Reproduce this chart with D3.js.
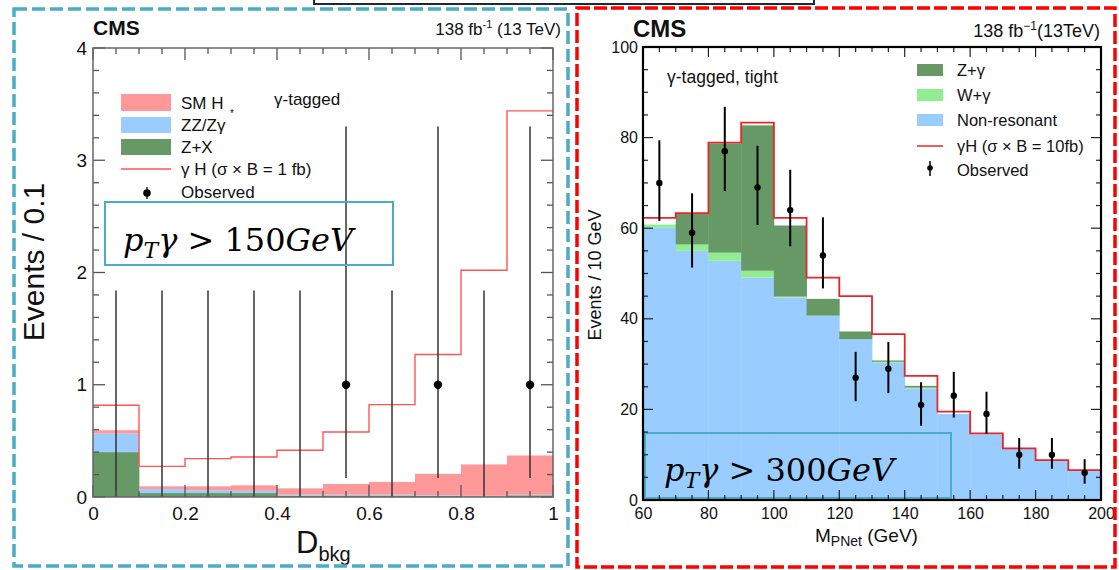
<!DOCTYPE html>
<html><head><meta charset="utf-8">
<script src="https://cdn.jsdelivr.net/npm/d3@7"></script>
<style>
html,body{margin:0;padding:0;background:#fff;}
text{font-family:"Liberation Sans",Arial,sans-serif;}
.math{font-family:"DejaVu Serif","Liberation Serif",serif;font-style:italic;}
</style></head>
<body><svg id="c" width="1119" height="570"></svg>
<script>
// ---------- LEFT PANEL DATA (D_bkg, bins of 0.1) ----------
const leftBinEdges = [0,0.1,0.2,0.3,0.4,0.5,0.6,0.7,0.8,0.9,1.0];
const leftZX   = [0.40,0.035,0.035,0.035,0.010,0.013,0.013,0.010,0.005,0.015];
const leftZZ   = [0.165,0.035,0.025,0.020,0.010,0.007,0.007,0.006,0.005,0.005];
const leftSMH  = [0.030,0.025,0.035,0.049,0.057,0.096,0.114,0.190,0.280,0.350];
const leftGH   = [0.817,0.273,0.342,0.356,0.416,0.579,0.823,1.27,2.02,3.44];
const leftObs  = [0,0,0,0,0,1,0,1,0,1];
const leftErrUp   = [1.84,1.84,1.84,1.84,1.84,2.30,1.84,2.30,1.84,2.30];
const leftErrDown = [0,0,0,0,0,0.83,0,0.83,0,0.83];
const leftXTicks = [0,0.2,0.4,0.6,0.8,1];
const leftYTicks = [0,1,2,3,4];

// ---------- RIGHT PANEL DATA (M_PNet, bins of 10 GeV) ----------
const rightBinEdges = [60,70,80,90,100,110,120,130,140,150,160,170,180,190,200];
const rightNonRes = [60.2,55.0,52.8,49.1,44.7,40.7,35.5,30.3,24.6,19.0,14.5,11.3,8.7,6.5];
const rightWG     = [0.6,1.4,1.8,1.5,0.2,0,0,0.2,0.2,0,0,0,0,0];
const rightZG     = [0,6.7,24.1,32.1,15.7,3.7,1.7,0.3,0.4,0,0,0,0,0];
const rightGH     = [62.3,63.3,78.9,83.3,62.3,49.1,45.0,36.6,27.4,19.5,14.7,11.4,8.8,6.6];
const rightObs    = [70,59,77,69,64,54,27,29,21,23,19,10,10,6];
const rightErrUp  = [9.4,8.7,9.8,9.2,8.9,8.4,5.7,5.9,5.0,5.3,4.9,3.7,3.7,3.0];
const rightErrDown= [8.4,7.7,8.8,8.3,8.0,7.3,5.2,5.4,4.6,4.8,4.4,3.1,3.1,2.4];
const rightXTicks = [60,80,100,120,140,160,180,200];
const rightYTicks = [0,20,40,60,80,100];

const svg = d3.select("#c");
svg.append("rect").attr("width",1119).attr("height",570).attr("fill","#fff");

function steps(edges, vals){
  const pts = vals.map((v,i)=>[edges[i],v]);
  pts.push([edges[edges.length-1], vals[vals.length-1]]);
  return pts;
}

function frameAxes(g, x, y, o){
  const xMin = d3.range(x.domain()[0], x.domain()[1]+1e-9, o.xMinor);
  const yMin = d3.range(y.domain()[0], y.domain()[1]+1e-9, o.yMinor);
  const [x0,x1] = x.range(), [y0,y1] = y.range();
  const tg = g.append("g").attr("stroke",o.tickColor).attr("stroke-width",o.tickW);
  const isMajX = v => o.xMajor.some(m=>Math.abs(m-v)<1e-6);
  const isMajY = v => o.yMajor.some(m=>Math.abs(m-v)<1e-6);
  xMin.forEach(v=>{
    const L = isMajX(v)?o.majLen:o.minLen;
    tg.append("line").attr("x1",x(v)).attr("x2",x(v)).attr("y1",y0).attr("y2",y0-L);
    tg.append("line").attr("x1",x(v)).attr("x2",x(v)).attr("y1",y1).attr("y2",y1+L);
  });
  yMin.forEach(v=>{
    const L = isMajY(v)?o.majLen:o.minLen;
    tg.append("line").attr("y1",y(v)).attr("y2",y(v)).attr("x1",x0).attr("x2",x0+L);
    tg.append("line").attr("y1",y(v)).attr("y2",y(v)).attr("x1",x1).attr("x2",x1-L);
  });
  g.append("rect").attr("x",x0).attr("y",y1).attr("width",x1-x0).attr("height",y0-y1)
    .attr("fill","none").attr("stroke",o.frameColor).attr("stroke-width",o.frameW);
  const ax = g.append("g").attr("transform",`translate(0,${y0})`)
    .call(d3.axisBottom(x).tickValues(o.xMajor).tickSize(0).tickPadding(o.xPad).tickFormat(o.xFmt));
  ax.select(".domain").remove();
  ax.selectAll("text").attr("font-size",o.fs).attr("fill","#111").attr("font-family","Liberation Sans, Arial, sans-serif");
  const ay = g.append("g").attr("transform",`translate(${x0},0)`)
    .call(d3.axisLeft(y).tickValues(o.yMajor).tickSize(0).tickPadding(o.yPad).tickFormat(o.yFmt));
  ay.select(".domain").remove();
  ay.selectAll("text").attr("font-size",o.fs).attr("fill","#111").attr("font-family","Liberation Sans, Arial, sans-serif");
}

function ptLabel(g, xPos, yPos, num){
  const pt = g.append("text").attr("class","math").attr("x",xPos).attr("y",yPos).attr("font-size",32).attr("fill","#000");
  pt.append("tspan").text("p");
  pt.append("tspan").attr("dy",7).attr("font-size",22).text("T");
  pt.append("tspan").attr("dy",-7).text("γ");
  pt.append("tspan").attr("font-style","normal").text(" > " + num);
  pt.append("tspan").text("GeV");
}

// ================= LEFT PANEL =================
{
  const g = svg.append("g");
  const x = d3.scaleLinear().domain([0,1]).range([93,553]);
  const y = d3.scaleLinear().domain([0,4]).range([497,48]);
  const stack = [
    {vals:leftZX, col:"#669966"},
    {vals:leftZZ, col:"#99ccff"},
    {vals:leftSMH,col:"#ff9999"}
  ];
  const base = leftZX.map(()=>0);
  stack.forEach(s=>{
    g.append("g").selectAll("rect").data(s.vals).join("rect")
      .attr("x",(d,i)=>x(leftBinEdges[i]))
      .attr("width",(d,i)=>x(leftBinEdges[i+1])-x(leftBinEdges[i])+0.4)
      .attr("y",(d,i)=>y(base[i]+d))
      .attr("height",(d,i)=>y(base[i])-y(base[i]+d))
      .attr("fill",s.col);
    s.vals.forEach((d,i)=>base[i]+=d);
  });
  g.append("path").datum(steps(leftBinEdges,leftGH))
    .attr("d",d3.line().x(d=>x(d[0])).y(d=>y(d[1])).curve(d3.curveStepAfter))
    .attr("fill","none").attr("stroke","#ff5555").attr("stroke-width",1.4);
  const cen = leftObs.map((d,i)=>(leftBinEdges[i]+leftBinEdges[i+1])/2);
  g.append("g").selectAll("line").data(leftObs).join("line")
    .attr("x1",(d,i)=>x(cen[i])).attr("x2",(d,i)=>x(cen[i]))
    .attr("y1",(d,i)=>y(d-leftErrDown[i])).attr("y2",(d,i)=>y(d+leftErrUp[i]))
    .attr("stroke","#333").attr("stroke-width",1.5);
  g.append("g").selectAll("circle").data(leftObs.map((d,i)=>[cen[i],d]).filter(d=>d[1]>0)).join("circle")
    .attr("cx",d=>x(d[0])).attr("cy",d=>y(d[1])).attr("r",4.2).attr("fill","#000");

  frameAxes(g,x,y,{xMinor:0.05,yMinor:0.2,xMajor:leftXTicks,yMajor:leftYTicks,
    majLen:12,minLen:6,tickColor:"#555",tickW:1.3,frameColor:"#666",frameW:1.5,
    fs:19,xPad:10,yPad:6,xFmt:d=>d3.format("")(d),yFmt:d3.format("d")});

  g.append("text").attr("transform","translate(44,262) rotate(-90)").attr("text-anchor","middle")
    .attr("font-size",30).attr("fill","#111").text("Events / 0.1");
  const xt = g.append("text").attr("x",296).attr("y",553).attr("font-size",31).attr("fill","#111");
  xt.append("tspan").text("D");
  xt.append("tspan").attr("dy",8).attr("font-size",20).text("bkg");
  g.append("text").attr("x",93).attr("y",35).attr("font-size",21).attr("font-weight","bold").attr("fill","#111").text("CMS");
  const lm = g.append("text").attr("x",561).attr("y",35).attr("text-anchor","end").attr("font-size",17).attr("fill","#111");
  lm.append("tspan").text("138 fb");
  lm.append("tspan").attr("dy",-7).attr("font-size",11).text("-1");
  lm.append("tspan").attr("dy",7).text(" (13 TeV)");

  const lg = g.append("g");
  const items = [
    {t:"SM H", col:"#ff9999", y:94, h:17},
    {t:"ZZ/Zγ", col:"#99ccff", y:117, h:16},
    {t:"Z+X", col:"#669966", y:139, h:16}
  ];
  items.forEach(it=>{
    lg.append("rect").attr("x",121).attr("y",it.y).attr("width",50).attr("height",it.h).attr("fill",it.col);
    lg.append("text").attr("x",181).attr("y",it.y+it.h-2).attr("font-size",17).attr("fill","#111").text(it.t);
  });
  lg.append("text").attr("x",230).attr("y",117).attr("font-size",10).attr("fill","#111").text("*");
  lg.append("line").attr("x1",121).attr("x2",171).attr("y1",169).attr("y2",169).attr("stroke","#ff5555").attr("stroke-width",1.5);
  lg.append("text").attr("x",181).attr("y",175).attr("font-size",17).attr("fill","#111").text("γ H (σ × B = 1 fb)");
  lg.append("line").attr("x1",147).attr("x2",147).attr("y1",187).attr("y2",199).attr("stroke","#000").attr("stroke-width",1.3);
  lg.append("circle").attr("cx",147).attr("cy",193).attr("r",3.8).attr("fill","#000");
  lg.append("text").attr("x",181).attr("y",198).attr("font-size",17).attr("fill","#111").text("Observed");
  g.append("text").attr("x",274).attr("y",105).attr("font-size",17).attr("fill","#111").text("γ-tagged");

  g.append("rect").attr("x",105).attr("y",202).attr("width",288).attr("height",63)
    .attr("fill","none").attr("stroke","#4bacc6").attr("stroke-width",2);
  ptLabel(g,123,251,"150");
}

// ================= RIGHT PANEL =================
{
  const g = svg.append("g");
  const x = d3.scaleLinear().domain([60,200]).range([643,1101]);
  const y = d3.scaleLinear().domain([0,100]).range([500,47]);
  const stack = [
    {vals:rightNonRes, col:"#99ccff"},
    {vals:rightWG, col:"#90ee90"},
    {vals:rightZG, col:"#669966"}
  ];
  const base = rightNonRes.map(()=>0);
  stack.forEach(s=>{
    g.append("g").selectAll("rect").data(s.vals).join("rect")
      .attr("x",(d,i)=>x(rightBinEdges[i]))
      .attr("width",(d,i)=>x(rightBinEdges[i+1])-x(rightBinEdges[i])+0.4)
      .attr("y",(d,i)=>y(base[i]+d))
      .attr("height",(d,i)=>y(base[i])-y(base[i]+d))
      .attr("fill",s.col);
    s.vals.forEach((d,i)=>base[i]+=d);
  });
  g.append("path").datum(steps(rightBinEdges,rightGH))
    .attr("d",d3.line().x(d=>x(d[0])).y(d=>y(d[1])).curve(d3.curveStepAfter))
    .attr("fill","none").attr("stroke","#e8262a").attr("stroke-width",1.8);
  const cen = rightObs.map((d,i)=>(rightBinEdges[i]+rightBinEdges[i+1])/2);
  g.append("g").selectAll("line").data(rightObs).join("line")
    .attr("x1",(d,i)=>x(cen[i])).attr("x2",(d,i)=>x(cen[i]))
    .attr("y1",(d,i)=>y(d-rightErrDown[i])).attr("y2",(d,i)=>y(d+rightErrUp[i]))
    .attr("stroke","#000").attr("stroke-width",2);
  g.append("g").selectAll("circle").data(rightObs).join("circle")
    .attr("cx",(d,i)=>x(cen[i])).attr("cy",d=>y(d)).attr("r",3.2).attr("fill","#000");

  g.append("rect").attr("x",645).attr("y",433).attr("width",306).attr("height",65)
    .attr("fill","none").attr("stroke","#4bacc6").attr("stroke-width",2);
  ptLabel(g,664,481,"300");

  frameAxes(g,x,y,{xMinor:5,yMinor:5,xMajor:rightXTicks,yMajor:rightYTicks,
    majLen:10,minLen:5,tickColor:"#222",tickW:1.2,frameColor:"#000",frameW:2.2,
    fs:16,xPad:8,yPad:5,xFmt:d3.format("d"),yFmt:d3.format("d")});

  g.append("text").attr("transform","translate(601,275) rotate(-90)").attr("text-anchor","middle")
    .attr("font-size",18).attr("fill","#111").text("Events / 10 GeV");
  const xt = g.append("text").attr("x",815).attr("y",542).attr("font-size",19).attr("fill","#111");
  xt.append("tspan").text("M");
  xt.append("tspan").attr("dy",4).attr("font-size",14).text("PNet");
  xt.append("tspan").attr("dy",-4).text(" (GeV)");
  g.append("text").attr("x",633).attr("y",37).attr("font-size",24).attr("font-weight","bold").attr("fill","#111").text("CMS");
  const lm = g.append("text").attr("x",1100).attr("y",37).attr("text-anchor","end").attr("font-size",18).attr("fill","#111");
  lm.append("tspan").text("138 fb");
  lm.append("tspan").attr("dy",-7).attr("font-size",12).text("−1");
  lm.append("tspan").attr("dy",7).text("(13TeV)");
  g.append("text").attr("x",667).attr("y",83).attr("font-size",17.5).attr("fill","#111").text("γ-tagged, tight");

  const lg = g.append("g");
  [{t:"Z+γ",col:"#669966",y:64},{t:"W+γ",col:"#90ee90",y:89},{t:"Non-resonant",col:"#99ccff",y:114}].forEach(it=>{
    lg.append("rect").attr("x",917).attr("y",it.y).attr("width",26).attr("height",12).attr("fill",it.col);
    lg.append("text").attr("x",957).attr("y",it.y+12).attr("font-size",16.5).attr("fill","#111").text(it.t);
  });
  lg.append("line").attr("x1",917).attr("x2",943).attr("y1",146).attr("y2",146).attr("stroke","#e8262a").attr("stroke-width",1.5);
  lg.append("text").attr("x",957).attr("y",152).attr("font-size",16.5).attr("fill","#111").text("γH (σ × B = 10fb)");
  lg.append("line").attr("x1",930).attr("x2",930).attr("y1",161).attr("y2",176).attr("stroke","#000").attr("stroke-width",1.5);
  lg.append("circle").attr("cx",930).attr("cy",168).attr("r",2.8).attr("fill","#000");
  lg.append("text").attr("x",957).attr("y",176).attr("font-size",16.5).attr("fill","#111").text("Observed");
}

// ---------- decorative frames ----------
svg.append("path").attr("d","M314,0 V4 H814 V0").attr("fill","none").attr("stroke","#1d2b30").attr("stroke-width",2);
svg.append("rect").attr("x",14).attr("y",9).attr("width",554).attr("height",557)
  .attr("fill","none").attr("stroke","#4bacc6").attr("stroke-width",3.5).attr("stroke-dasharray","13,5");
svg.append("rect").attr("x",577).attr("y",8).attr("width",538).attr("height",559)
  .attr("fill","none").attr("stroke","#ff0000").attr("stroke-width",3.5).attr("stroke-dasharray","13,4");
</script></body></html>
